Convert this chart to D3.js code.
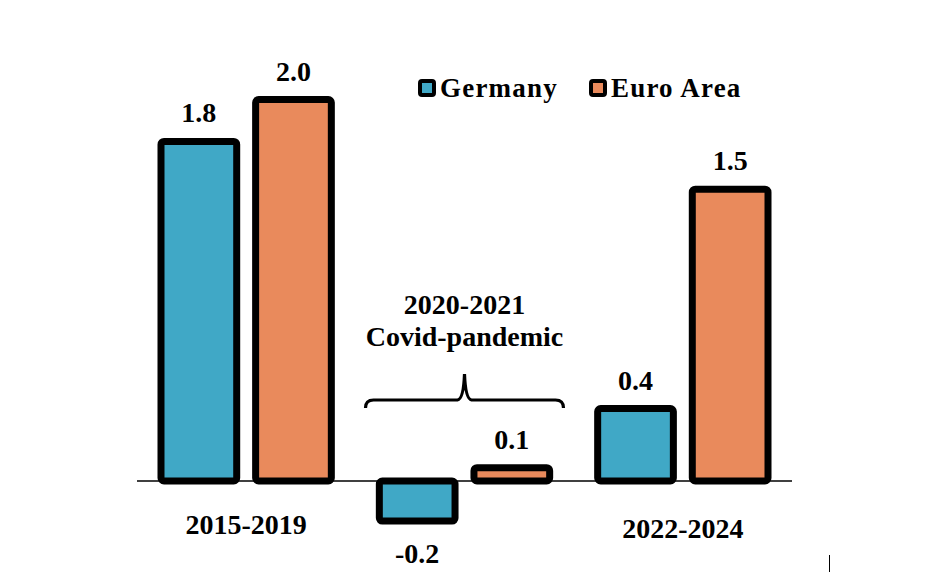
<!DOCTYPE html>
<html>
<head>
<meta charset="utf-8">
<title>Germany vs Euro Area</title>
<script src="https://cdn.jsdelivr.net/npm/d3@7"></script>
<style>
    body { margin: 0; background: #fff; overflow: hidden; }
    text { font-family: "Liberation Serif", "Times New Roman", serif; font-weight: bold; fill: #000; }
</style>
</head>
<body>
<div id="container"></div>
<script>
    var categories = ["2015-2019", "2020-2021", "2022-2024"];
    var categoryLines = [["2015-2019"], ["2020-2021", "Covid-pandemic"], ["2022-2024"]];
    var series = ["Germany", "Euro Area"];
    var germany = [1.78, -0.21, 0.38];
    var euroArea = [2.0, 0.07, 1.53];
    var colors = ["#40A8C6", "#E98A5C"];

    var width = 939, height = 572;
    var svg = d3.select("#container").append("svg")
        .attr("width", width).attr("height", height);

    var x0 = d3.scaleBand().domain(categories).range([137, 792]);
    var bw = x0.bandwidth();
    var x1 = d3.scaleBand().domain(series).range([24, bw - 24]).paddingInner(0.2);
    var y = d3.scaleLinear().domain([0, 2]).range([481, 99.5]);

    var rows = [];
    categories.forEach(function (c, i) {
        rows.push({ cat: c, s: series[0], v: germany[i], k: 0 });
        rows.push({ cat: c, s: series[1], v: euroArea[i], k: 1 });
    });

    // zero line
    svg.append("line")
        .attr("x1", x0.range()[0]).attr("x2", x0.range()[1])
        .attr("y1", y(0)).attr("y2", y(0))
        .attr("stroke", "#000").attr("stroke-width", 1.6);

    svg.selectAll("rect.bar").data(rows).enter().append("rect")
        .attr("class", "bar")
        .attr("x", function (d) { return x0(d.cat) + x1(d.s); })
        .attr("width", x1.bandwidth())
        .attr("y", function (d) { return y(Math.max(0, d.v)); })
        .attr("height", function (d) { return Math.abs(y(d.v) - y(0)); })
        .attr("rx", 3)
        .attr("fill", function (d) { return colors[d.k]; })
        .attr("stroke", "#000").attr("stroke-width", 7)
        .attr("stroke-linejoin", "round");

    var fmt = d3.format(".1f");
    svg.selectAll("text.val").data(rows).enter().append("text")
        .attr("class", "val")
        .attr("x", function (d) { return x0(d.cat) + x1(d.s) + x1.bandwidth() / 2; })
        .attr("y", function (d) { return d.v >= 0 ? y(d.v) - 19 : y(d.v) + 42; })
        .attr("text-anchor", "middle")
        .style("font-size", "28px")
        .text(function (d) { return fmt(d.v).replace("\u2212", "-"); });

    // category labels
    var catY = [534, 314, 538];
    categories.forEach(function (c, i) {
        var t = svg.append("text")
            .attr("x", x0(c) + bw / 2)
            .attr("y", catY[i])
            .attr("text-anchor", "middle")
            .style("font-size", "28px");
        categoryLines[i].forEach(function (line, j) {
            t.append("tspan").attr("x", x0(c) + bw / 2).attr("dy", j === 0 ? 0 : 32).text(line);
        });
    });

    // brace under the covid label
    var cx = x0(categories[1]) + bw / 2;
    var bl = cx - 99, br = cx + 99, by = 400;
    svg.append("path")
        .attr("d", "M" + bl + "," + (by + 8) + " Q" + bl + "," + by + " " + (bl + 8) + "," + by +
            " L" + (cx - 7) + "," + by + " Q" + (cx - 1) + "," + (by - 1) + " " + cx + "," + (by - 26) +
            " Q" + (cx + 1) + "," + (by - 1) + " " + (cx + 7) + "," + by +
            " L" + (br - 8) + "," + by + " Q" + br + "," + by + " " + br + "," + (by + 8))
        .attr("fill", "none").attr("stroke", "#000").attr("stroke-width", 3.2);

    // legend
    var legX = [418, 589];
    series.forEach(function (s, i) {
        var g = svg.append("g").attr("transform", "translate(" + legX[i] + ",79)");
        g.append("rect").attr("x", 2).attr("y", 2).attr("width", 14).attr("height", 14)
            .attr("rx", 2).attr("fill", colors[i]).attr("stroke", "#000").attr("stroke-width", 4);
        g.append("text").attr("x", 22).attr("y", 18).style("font-size", "27px")
            .style("letter-spacing", "1.2px").text(s);
    });

    svg.append("line").attr("x1", 829.5).attr("x2", 829.5).attr("y1", 555).attr("y2", 572)
        .attr("stroke", "#000").attr("stroke-width", 1);
</script>
</body>
</html>
